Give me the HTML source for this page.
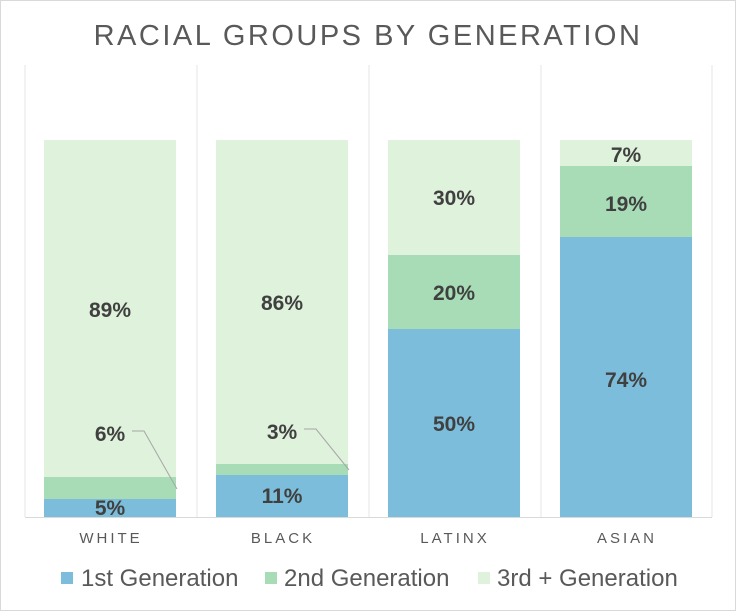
<!DOCTYPE html>
<html><head><style>
body{margin:0;background:#fff;}
svg text{font-family:"Liberation Sans",sans-serif;}
</style></head><body>
<svg width="736" height="611" xmlns="http://www.w3.org/2000/svg">
<rect x="0.5" y="0.5" width="735" height="610" fill="#fff" stroke="#d9d9d9"/>
<text x="368" y="45" text-anchor="middle" font-size="29" fill="#595959" letter-spacing="2.5">RACIAL GROUPS BY GENERATION</text>
<g stroke="#e6e6e6" stroke-width="1">
<line x1="25" y1="65" x2="25" y2="517"/><line x1="197" y1="65" x2="197" y2="517"/>
<line x1="369" y1="65" x2="369" y2="517"/><line x1="541" y1="65" x2="541" y2="517"/>
<line x1="712" y1="65" x2="712" y2="517"/>
</g>
<line x1="25" y1="517.5" x2="712" y2="517.5" stroke="#d9d9d9"/>
<rect x="44" y="140" width="132" height="337" fill="#dff2dc"/>
<rect x="44" y="477" width="132" height="22" fill="#a8dcb7"/>
<rect x="44" y="499" width="132" height="18" fill="#7bbdda"/>
<rect x="216" y="140" width="132" height="324" fill="#dff2dc"/>
<rect x="216" y="464" width="132" height="11" fill="#a8dcb7"/>
<rect x="216" y="475" width="132" height="42" fill="#7bbdda"/>
<rect x="388" y="140" width="132" height="115" fill="#dff2dc"/>
<rect x="388" y="255" width="132" height="74" fill="#a8dcb7"/>
<rect x="388" y="329" width="132" height="188" fill="#7bbdda"/>
<rect x="560" y="140" width="132" height="26" fill="#dff2dc"/>
<rect x="560" y="166" width="132" height="71" fill="#a8dcb7"/>
<rect x="560" y="237" width="132" height="280" fill="#7bbdda"/>
<g fill="none" stroke="#a6a6a6" stroke-width="1">
<polyline points="132,431 144,431 177,489"/>
<polyline points="304,429 316,429 349,470"/>
</g>
<g font-size="21" font-weight="bold" fill="#404040" text-anchor="middle">
<text x="110" y="317">89%</text><text x="110" y="441">6%</text><text x="110" y="515">5%</text>
<text x="282" y="310">86%</text><text x="282" y="439">3%</text><text x="282" y="503">11%</text>
<text x="454" y="205">30%</text><text x="454" y="300">20%</text><text x="454" y="431">50%</text>
<text x="626" y="162">7%</text><text x="626" y="211">19%</text><text x="626" y="387">74%</text>
</g>
<g font-size="15" fill="#595959" text-anchor="middle" letter-spacing="3">
<text x="111" y="543">WHITE</text><text x="283" y="543">BLACK</text>
<text x="455" y="543">LATINX</text><text x="627" y="543">ASIAN</text>
</g>
<rect x="61" y="572" width="12" height="12" fill="#7bbdda"/>
<text x="81" y="586" font-size="24" fill="#595959">1st Generation</text>
<rect x="265" y="572" width="12" height="12" fill="#a8dcb7"/>
<text x="284" y="586" font-size="24" fill="#595959">2nd Generation</text>
<rect x="478" y="572" width="12" height="12" fill="#dff2dc"/>
<text x="497" y="586" font-size="24" fill="#595959">3rd + Generation</text>
</svg>
</body></html>
